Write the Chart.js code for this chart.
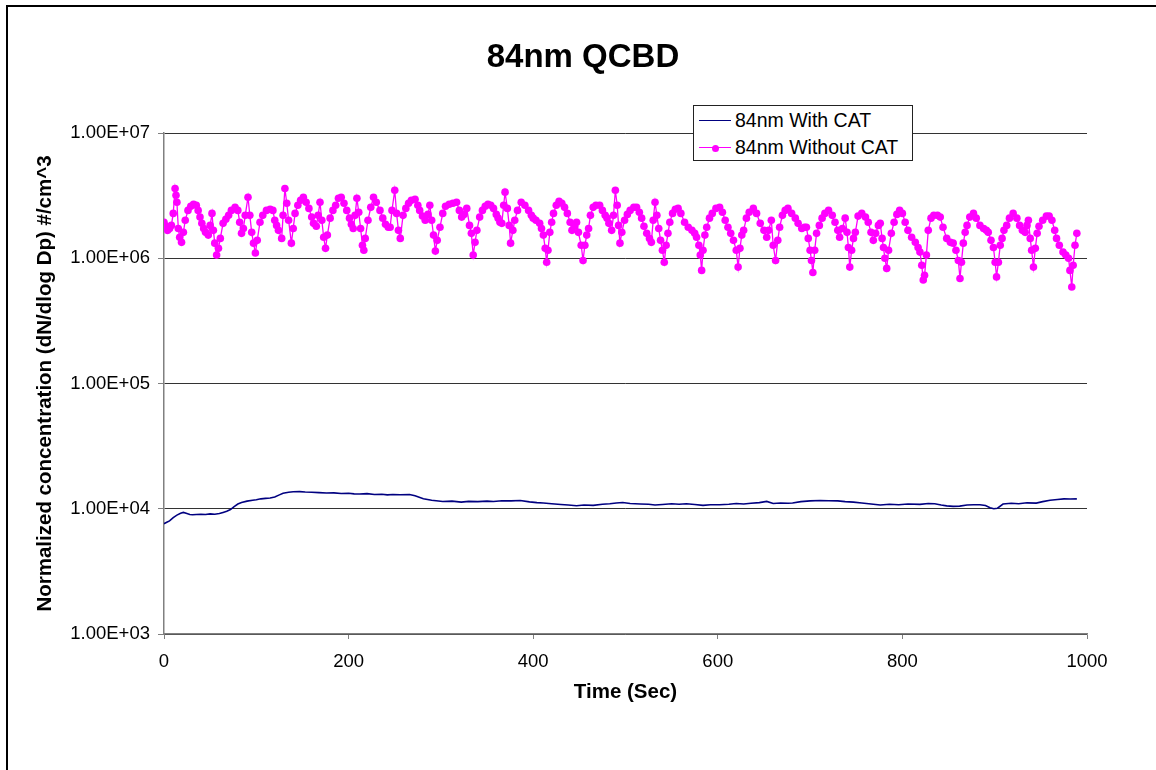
<!DOCTYPE html>
<html>
<head>
<meta charset="utf-8">
<script src="https://cdn.jsdelivr.net/npm/chart.js@4.4.1/dist/chart.umd.min.js"></script>
<style>
  html, body { margin: 0; padding: 0; background: #fff; overflow: hidden; }
  #wrap { position: relative; width: 1156px; height: 770px; }
  #chart { position: absolute; left: 0; top: 0; }
  #frame { position: absolute; left: 6px; top: 5px; width: 1200px; height: 800px;
           border-left: 2px solid #000; border-top: 2px solid #000; pointer-events: none; }
  #legend { position: absolute; left: 693px; top: 105px; width: 218px; height: 54px;
            background: #fff; border: 1px solid #222; font-family: "Liberation Sans", Arial, sans-serif;
            font-size: 19.5px; color: #000; }
  .row { position: absolute; left: 0; height: 0; }
  .sw { position: absolute; left: 5px; width: 32px; top: 0; }
  .dot { position: absolute; left: 12.5px; top: -3.5px; width: 7px; height: 7px; border-radius: 50%; }
  .txt { position: absolute; left: 41px; top: -12px; white-space: nowrap; line-height: 24px; }
</style>
</head>
<body>
<div id="wrap">
  <canvas id="chart" width="1156" height="770"></canvas>
  <div id="frame"></div>
  <div id="legend"></div>
</div>
<script>
const chartTitle = '84nm QCBD';
const xTitle = 'Time (Sec)';
const yTitle = 'Normalized concentration (dN/dlog Dp) #/cm^3';
const seriesNames = ['84nm With CAT', '84nm Without CAT'];
const seriesColors = ['#000080', '#FF00FF'];
const xTicks = [0, 200, 400, 600, 800, 1000];
const xTickLabels = ['0', '200', '400', '600', '800', '1000'];
const yTicks = [1e3, 1e4, 1e5, 1e6, 1e7];
const yTickLabels = ['1.00E+03', '1.00E+04', '1.00E+05', '1.00E+06', '1.00E+07'];

// [time (s), concentration]
const withCat = [
  [0, 7600], [3, 7800], [6, 8000], [10, 8500], [14, 8900], [18, 9200], [21, 9350], [24, 9200], [28, 9000], [31, 8950],
  [35, 9000], [40, 9050], [45, 9000], [50, 9100], [55, 9050], [60, 9150], [64, 9350], [68, 9550], [72, 9850], [76, 10400],
  [80, 10900], [84, 11200], [90, 11500], [96, 11700], [100, 11800], [105, 12000], [110, 12100], [115, 12170], [120, 12400], [125, 12900],
  [129, 13300], [135, 13550], [140, 13650], [147, 13700], [153, 13600], [160, 13550], [168, 13450], [176, 13350], [184, 13400], [192, 13250],
  [200, 13300], [206, 13150], [212, 13100], [220, 13200], [228, 13000], [236, 13050], [242, 12900], [248, 13000], [256, 12950], [266, 13000],
  [272, 12700], [281, 12000], [290, 11700], [302, 11440], [312, 11500], [322, 11300], [330, 11450], [340, 11400], [350, 11500], [357, 11440],
  [366, 11600], [376, 11550], [386, 11650], [396, 11350], [404, 11200], [411, 11100], [420, 10950], [430, 10800], [438, 10700], [447, 10570],
  [455, 10700], [465, 10650], [475, 10850], [483, 10960], [490, 11100], [497, 11230], [505, 11000], [516, 10900], [525, 10850], [532, 10700],
  [540, 10800], [550, 10950], [558, 10850], [566, 10960], [575, 10800], [584, 10650], [592, 10750], [602, 10760], [612, 10850], [620, 11000],
  [628, 10900], [636, 11050], [645, 11200], [653, 11440], [660, 11000], [668, 11100], [676, 11050], [681, 11100], [690, 11400], [700, 11550],
  [711, 11650], [720, 11600], [730, 11550], [738, 11400], [747, 11300], [756, 11100], [766, 10900], [776, 10700], [786, 10850], [796, 10750],
  [806, 10900], [819, 10830], [828, 11000], [835, 10950], [842, 10700], [848, 10550], [855, 10440], [862, 10500], [870, 10700], [877, 10750],
  [884, 10760], [890, 10600], [895, 10200], [899, 10000], [903, 10100], [909, 10900], [918, 11050], [926, 10950], [935, 11150], [945, 11100],
  [952, 11400], [960, 11700], [968, 11850], [975, 12000], [982, 11950], [989, 12000]
];

const withoutCat = [
  [0, 1.94e6], [2, 1.80e6], [4, 1.67e6], [6, 1.73e6], [8, 1.83e6], [10, 2.28e6], [12, 3.6e6], [13, 3.18e6], [14, 2.80e6], [15.5, 1.73e6],
  [17, 1.47e6], [19, 1.34e6], [21, 1.61e6], [23, 2.01e6], [26, 2.41e6], [29, 2.60e6], [32, 2.70e6], [35, 2.65e6], [37, 2.41e6], [39, 2.13e6],
  [41, 1.90e6], [43, 1.73e6], [45, 1.61e6], [48, 1.53e6], [50, 1.83e6], [52, 2.28e6], [53.5, 1.67e6], [55, 1.32e6], [57, 1.06e6], [59, 1.20e6],
  [61, 1.44e6], [64, 1.90e6], [67, 2.05e6], [70, 2.20e6], [73, 2.41e6], [77, 2.55e6], [80, 2.41e6], [82, 1.94e6], [84, 1.58e6], [86, 1.73e6],
  [88, 2.20e6], [91, 3.07e6], [93, 2.20e6], [95, 1.61e6], [97, 1.32e6], [99, 1.10e6], [101, 1.39e6], [104, 1.94e6], [107, 2.20e6], [111, 2.41e6],
  [115, 2.46e6], [118, 2.41e6], [120, 2.01e6], [122, 1.83e6], [124, 1.67e6], [127.5, 1.44e6], [129, 2.20e6], [131, 3.6e6], [133, 2.75e6], [135, 2.01e6],
  [138, 1.32e6], [140, 1.73e6], [142, 2.28e6], [145, 2.65e6], [148, 2.90e6], [151, 3.07e6], [154, 2.80e6], [157, 2.50e6], [160, 2.13e6], [162, 1.90e6],
  [165, 1.80e6], [167, 2.20e6], [169, 2.80e6], [171, 2.01e6], [173, 1.47e6], [175, 1.20e6], [177, 1.53e6], [180, 2.09e6], [183, 2.41e6], [186, 2.65e6],
  [189, 3.01e6], [192, 3.07e6], [195, 2.75e6], [198, 2.41e6], [201, 2.09e6], [203, 1.87e6], [205, 1.73e6], [207, 2.20e6], [209, 3.01e6], [211, 2.33e6],
  [213, 1.73e6], [215, 1.27e6], [216.5, 1.16e6], [218, 1.44e6], [221, 2.01e6], [224, 2.55e6], [227, 3.07e6], [230, 2.80e6], [234, 2.41e6], [237, 2.09e6],
  [240, 1.87e6], [243, 1.77e6], [245, 1.77e6], [247, 2.41e6], [250, 3.49e6], [252, 2.28e6], [254, 1.67e6], [256, 1.44e6], [259, 2.20e6], [262, 2.50e6],
  [265, 2.75e6], [268, 2.90e6], [272, 2.96e6], [275, 2.65e6], [277, 2.41e6], [280, 2.17e6], [283, 2.01e6], [286, 2.24e6], [288, 2.65e6], [290, 2.01e6],
  [292, 1.53e6], [294, 1.14e6], [296, 1.39e6], [299, 1.77e6], [302, 2.28e6], [305, 2.60e6], [309, 2.70e6], [313, 2.75e6], [317, 2.80e6], [320, 2.41e6],
  [322.5, 2.13e6], [325, 2.24e6], [328, 2.50e6], [331, 1.83e6], [333, 1.58e6], [335, 1.06e6], [337, 1.34e6], [339, 1.67e6], [342, 2.13e6], [345, 2.41e6],
  [348, 2.60e6], [351, 2.70e6], [354, 2.65e6], [357, 2.50e6], [360, 2.24e6], [362, 2.09e6], [364, 1.94e6], [366, 1.90e6], [368, 2.65e6], [369.5, 3.37e6],
  [372, 2.50e6], [374, 1.83e6], [375.5, 1.32e6], [378, 1.67e6], [380, 2.01e6], [383, 2.41e6], [387, 2.80e6], [391, 2.65e6], [395, 2.41e6], [398, 2.20e6],
  [400, 2.09e6], [403, 2.01e6], [407, 1.90e6], [409, 1.73e6], [411, 1.53e6], [413, 1.20e6], [414.6, 0.93e6], [416, 1.16e6], [418, 1.61e6], [420, 1.94e6],
  [422, 2.28e6], [425, 2.65e6], [428, 2.85e6], [431, 2.75e6], [434, 2.55e6], [437, 2.28e6], [440, 1.94e6], [442, 1.67e6], [445, 1.80e6], [447, 1.94e6],
  [449, 1.61e6], [452, 1.27e6], [454, 0.96e6], [456, 1.27e6], [458, 1.53e6], [460, 1.73e6], [462, 2.20e6], [465, 2.55e6], [468, 2.65e6], [472, 2.65e6],
  [475, 2.41e6], [478, 2.20e6], [480, 2.09e6], [482, 1.90e6], [485, 1.67e6], [487, 2.20e6], [489, 3.49e6], [491, 2.65e6], [492.5, 1.83e6], [494, 1.32e6],
  [496, 1.61e6], [499, 2.01e6], [502, 2.24e6], [505, 2.41e6], [509, 2.55e6], [512, 2.55e6], [515, 2.33e6], [517.5, 2.09e6], [520, 1.80e6], [523, 1.58e6],
  [526, 1.44e6], [528, 1.34e6], [530, 2.01e6], [532, 2.80e6], [534, 2.20e6], [536, 1.73e6], [538, 1.39e6], [540, 1.16e6], [542, 0.93e6], [544, 1.27e6],
  [546, 1.58e6], [548, 1.94e6], [551, 2.28e6], [554, 2.46e6], [557, 2.50e6], [560, 2.28e6], [564, 1.94e6], [568, 1.77e6], [572, 1.67e6], [575, 1.58e6],
  [577, 1.47e6], [579.5, 1.27e6], [581, 1.06e6], [582.5, 0.80e6], [584, 1.16e6], [586, 1.53e6], [588, 1.77e6], [591, 2.09e6], [594, 2.28e6], [598, 2.50e6],
  [602, 2.55e6], [605, 2.33e6], [608, 2.01e6], [611, 1.77e6], [614, 1.58e6], [617, 1.39e6], [620, 1.16e6], [622, 0.85e6], [624, 1.20e6], [626, 1.53e6],
  [628, 1.67e6], [631, 2.09e6], [634, 2.33e6], [638.5, 2.50e6], [642, 2.28e6], [646, 1.90e6], [650, 1.67e6], [653, 1.47e6], [655, 1.67e6], [658, 2.01e6],
  [660, 1.27e6], [662.6, 0.96e6], [665, 1.39e6], [667, 1.77e6], [670, 2.20e6], [673, 2.41e6], [676, 2.50e6], [680, 2.28e6], [684, 2.09e6], [687, 1.90e6],
  [691, 1.73e6], [694, 1.77e6], [696, 1.77e6], [698, 1.44e6], [700, 1.16e6], [701.5, 0.96e6], [703, 0.77e6], [705, 1.16e6], [707, 1.58e6], [710, 1.83e6],
  [713, 2.09e6], [716, 2.28e6], [720, 2.41e6], [724, 2.20e6], [727, 1.94e6], [730, 1.67e6], [732, 1.47e6], [735, 1.73e6], [738, 2.09e6], [740, 1.61e6],
  [741.5, 1.22e6], [743, 0.85e6], [745, 1.16e6], [747, 1.44e6], [749, 1.61e6], [752, 2.17e6], [756, 2.28e6], [760, 2.13e6], [763, 1.94e6], [766, 1.61e6],
  [768.5, 1.39e6], [771, 1.58e6], [774, 1.83e6], [776, 1.90e6], [778, 1.44e6], [779.5, 1.22e6], [781, 1.00e6], [783, 0.83e6], [785, 1.16e6], [788, 1.58e6],
  [791, 1.94e6], [794, 2.24e6], [797, 2.41e6], [800, 2.28e6], [803, 1.94e6], [806, 1.67e6], [810, 1.47e6], [814, 1.34e6], [817, 1.22e6], [819, 1.12e6],
  [821, 0.88e6], [822.6, 0.67e6], [824, 0.73e6], [826, 1.06e6], [828, 1.67e6], [831, 2.09e6], [834, 2.20e6], [838, 2.20e6], [841, 2.13e6], [844, 1.77e6],
  [848, 1.44e6], [852, 1.34e6], [855, 1.32e6], [858, 1.16e6], [860.6, 0.96e6], [862.4, 0.69e6], [864, 0.93e6], [866, 1.32e6], [868, 1.61e6], [870, 1.83e6],
  [873, 2.13e6], [877, 2.28e6], [880, 2.09e6], [884, 1.83e6], [888, 1.73e6], [891, 1.67e6], [893, 1.61e6], [896, 1.39e6], [898.6, 1.22e6], [900.5, 0.93e6],
  [902, 0.71e6], [904, 0.93e6], [906, 1.27e6], [908, 1.44e6], [910, 1.67e6], [913, 1.83e6], [916, 2.09e6], [920, 2.28e6], [924, 2.09e6], [927, 1.83e6],
  [930, 1.67e6], [933, 1.61e6], [935, 1.83e6], [936.5, 2.01e6], [938.5, 1.44e6], [940, 1.16e6], [942, 0.85e6], [944, 1.20e6], [946, 1.58e6], [948, 1.80e6],
  [952, 2.01e6], [956, 2.17e6], [959, 2.17e6], [962, 2.01e6], [965, 1.67e6], [967, 1.44e6], [970, 1.27e6], [974, 1.12e6], [977, 1.06e6], [980, 1.00e6],
  [981.5, 0.80e6], [983.5, 0.59e6], [985, 0.88e6], [987, 1.27e6], [989, 1.58e6]
];

const FONT = '"Liberation Sans", Arial, sans-serif';

const titlePlugin = {
  id: 'topTitle',
  afterDraw(chart) {
    const ctx = chart.ctx;
    ctx.save();
    ctx.font = 'bold 33px ' + FONT;
    ctx.fillStyle = '#000';
    ctx.textAlign = 'center';
    ctx.textBaseline = 'middle';
    ctx.fillText(chartTitle, 583, 58);
    ctx.restore();
  }
};

const toPoints = arr => arr.map(p => ({ x: p[0], y: p[1] }));

new Chart(document.getElementById('chart'), {
  type: 'line',
  data: {
    datasets: [
      {
        label: seriesNames[0],
        data: toPoints(withCat),
        borderColor: seriesColors[0],
        borderWidth: 1.6,
        pointRadius: 0,
        tension: 0
      },
      {
        label: seriesNames[1],
        data: toPoints(withoutCat),
        borderColor: seriesColors[1],
        backgroundColor: seriesColors[1],
        borderWidth: 1.3,
        pointRadius: 3.8,
        pointBorderWidth: 0,
        pointBackgroundColor: seriesColors[1],
        tension: 0
      }
    ]
  },
  options: {
    responsive: false,
    animation: false,
    devicePixelRatio: 1,
    layout: { padding: { top: 133, right: 69, left: 0, bottom: 0 } },
    plugins: {
      legend: { display: false },
      title: { display: false },
      tooltip: { enabled: false }
    },
    scales: {
      x: {
        type: 'linear',
        min: 0,
        max: 1000,
        afterBuildTicks: s => { s.ticks = xTicks.map(v => ({ value: v })); },
        afterFit: s => { s.height = 136; },
        ticks: {
          callback: v => xTickLabels[xTicks.indexOf(v)],
          color: '#000',
          font: { family: FONT, size: 18.5 },
          padding: 12,
          maxRotation: 0,
          autoSkip: false
        },
        grid: { drawOnChartArea: false, drawTicks: true, tickLength: 5, tickColor: '#808080' },
        border: { color: '#808080', width: 1.5 },
        title: {
          display: true,
          text: xTitle,
          color: '#000',
          font: { family: FONT, size: 20.5, weight: 'bold' },
          padding: { top: 0, bottom: 65 }
        }
      },
      y: {
        type: 'logarithmic',
        min: 1e3,
        max: 1e7,
        afterBuildTicks: s => { s.ticks = yTicks.map(v => ({ value: v })); },
        afterFit: s => { s.width = 164; },
        ticks: {
          callback: v => yTickLabels[yTicks.indexOf(v)],
          color: '#000',
          font: { family: FONT, size: 18.5 },
          padding: 8,
          autoSkip: false
        },
        grid: { color: '#333', lineWidth: 1, drawTicks: true, tickLength: 6, tickColor: '#808080' },
        border: { color: '#808080', width: 1.5 },
        title: {
          display: true,
          text: yTitle,
          color: '#000',
          font: { family: FONT, size: 20.5, weight: 'bold' },
          padding: { top: 33, bottom: 0 }
        }
      }
    }
  },
  plugins: [titlePlugin]
});

// legend box, drawn as html on top of the canvas
const legend = document.getElementById('legend');
const rowTops = [14, 41];
seriesNames.forEach((name, i) => {
  const row = document.createElement('div');
  row.className = 'row';
  row.style.top = rowTops[i] + 'px';
  const sw = document.createElement('div');
  sw.className = 'sw';
  sw.style.borderTop = (i === 0 ? 1.6 : 1) + 'px solid ' + seriesColors[i];
  if (i === 1) {
    const dot = document.createElement('div');
    dot.className = 'dot';
    dot.style.background = seriesColors[i];
    sw.appendChild(dot);
  }
  const txt = document.createElement('div');
  txt.className = 'txt';
  txt.textContent = name;
  row.appendChild(sw);
  row.appendChild(txt);
  legend.appendChild(row);
});
</script>
</body>
</html>
